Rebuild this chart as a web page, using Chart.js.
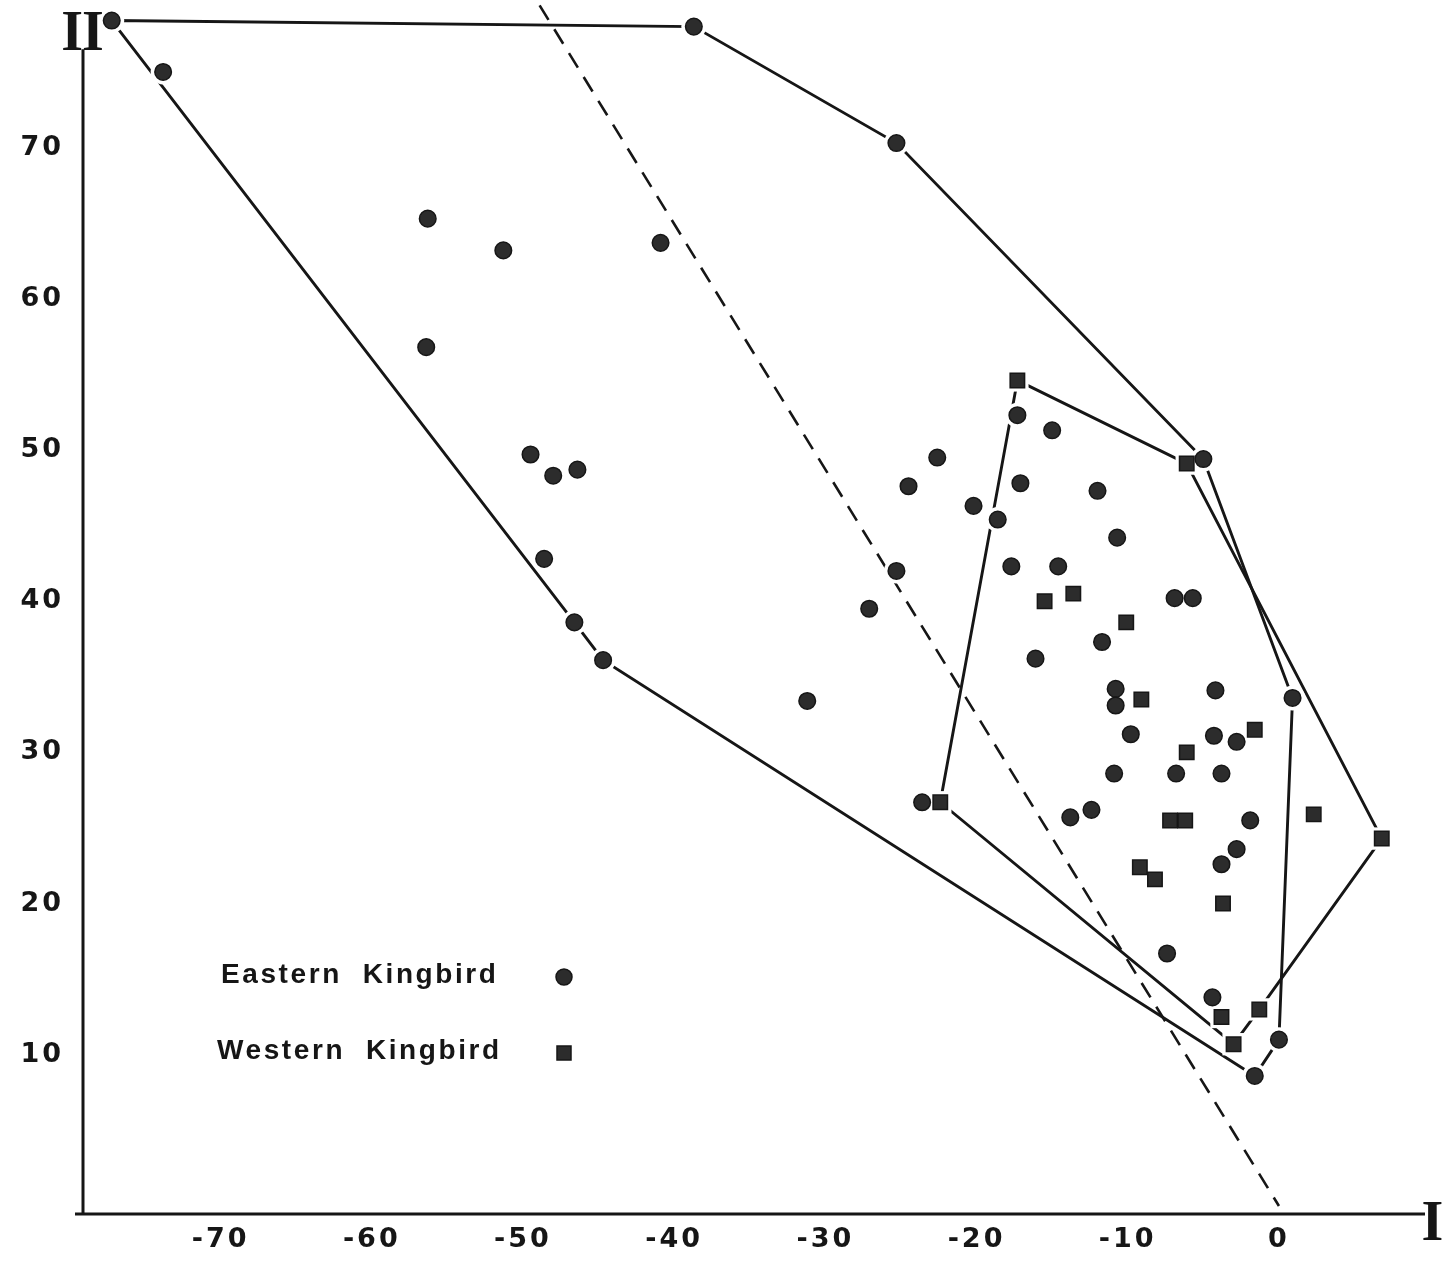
<!DOCTYPE html>
<html>
<head>
<meta charset="utf-8">
<title>Eastern and Western Kingbird – hybrid index scores</title>
<script src="https://cdn.jsdelivr.net/npm/chart.js@4/dist/chart.umd.min.js"></script>
<style>
  html, body { margin: 0; padding: 0; background: #ffffff; }
  #wrap { width: 1446px; height: 1263px; position: relative; }
</style>
</head>
<body>
<div id="wrap"><canvas id="chart"></canvas></div>
<script>
// Axis I (horizontal) and axis II (vertical) scores for each specimen.
const easternX = [-77.2, -73.8, -38.7, -25.3, -56.3, -51.3, -40.9, -56.4, -49.5, -48.0,
                  -46.4, -48.6, -46.6, -44.7, -31.2, -27.1, -25.3, -24.5, -22.6, -20.2,
                  -18.6, -17.3, -15.0, -17.1, -17.7, -14.6, -12.0, -10.7, -16.1, -11.7,
                  -6.9, -5.7, -10.8, -10.8, -9.8, -10.9, -4.2, -4.3, -2.8, -6.8,
                  -3.8, -13.8, -12.4, -1.9, -2.8, -3.8, -7.4, -4.4, -23.6, -5.0,
                  0.9, 0.0, -1.6];
const easternY = [78.4, 75.0, 78.0, 70.3, 65.3, 63.2, 63.7, 56.8, 49.7, 48.3,
                  48.7, 42.8, 38.6, 36.1, 33.4, 39.5, 42.0, 47.6, 49.5, 46.3,
                  45.4, 52.3, 51.3, 47.8, 42.3, 42.3, 47.3, 44.2, 36.2, 37.3,
                  40.2, 40.2, 34.2, 33.1, 31.2, 28.6, 34.1, 31.1, 30.7, 28.6,
                  28.6, 25.7, 26.2, 25.5, 23.6, 22.6, 16.7, 13.8, 26.7, 49.4,
                  33.6, 11.0, 8.6];
const westernX = [-17.3, -6.1, 6.8, -1.3, -3.0, -22.4, -15.5, -13.6, -10.1, -9.1,
                  -1.6, -6.1, -7.2, -6.2, 2.3, -9.2, -8.2, -3.7, -3.8];
const westernY = [54.6, 49.1, 24.3, 13.0, 10.7, 26.7, 40.0, 40.5, 38.6, 33.5,
                  31.5, 30.0, 25.5, 25.5, 25.9, 22.4, 21.6, 20.0, 12.5];

// Outline polygons (indices into the arrays above, closed).
const easternHull = [0, 2, 3, 49, 50, 51, 52, 13, 12, 0];
const westernHull = [0, 1, 2, 3, 4, 5, 0];

// Dashed separating line between the two forms.
const dividerX = [-48.9, 0.0];
const dividerY = [79.4, 0.0];

const xTicks = [-70, -60, -50, -40, -30, -20, -10, 0];
const yTicks = [10, 20, 30, 40, 50, 60, 70];
const xAxisName = 'I';
const yAxisName = 'II';
const legendNames = ['Eastern  Kingbird', 'Western  Kingbird'];

const pts = (xs, ys) => xs.map((x, i) => ({ x: x, y: ys[i] }));
const ring = (xs, ys, idx) => idx.map(i => ({ x: xs[i], y: ys[i] }));

const INK = '#161616';
const MARK = '#2c2c2c';

const decor = {
  id: 'decor',
  beforeDraw(chart) {
    chart.ctx.letterSpacing = '3px';
  },
  beforeDatasetsDraw(chart) {
    const { ctx } = chart;
    const xs = chart.scales.x, ys = chart.scales.y;
    ctx.save();
    ctx.strokeStyle = INK;
    ctx.lineWidth = 3;
    ctx.lineCap = 'butt';
    // vertical axis
    ctx.beginPath();
    ctx.moveTo(xs.left, ys.getPixelForValue(76.5));
    ctx.lineTo(xs.left, ys.bottom + 1);
    ctx.stroke();
    // horizontal axis
    ctx.beginPath();
    ctx.moveTo(xs.left - 8, ys.bottom);
    ctx.lineTo(xs.right, ys.bottom);
    ctx.stroke();
    ctx.restore();
  },
  afterDraw(chart) {
    const { ctx } = chart;
    const xs = chart.scales.x, ys = chart.scales.y;
    ctx.save();
    ctx.letterSpacing = '-1px';
    ctx.fillStyle = INK;
    ctx.textAlign = 'center';
    ctx.textBaseline = 'alphabetic';
    ctx.font = 'bold 56px "Liberation Serif"';
    ctx.fillText(yAxisName, xs.left - 1, ys.getPixelForValue(76.5) + 1);
    ctx.fillText(xAxisName, xs.right + 7, ys.bottom + 26);

    // legend
    ctx.letterSpacing = '2.6px';
    ctx.textAlign = 'left';
    ctx.textBaseline = 'middle';
    ctx.font = 'bold 28px "Liberation Sans"';
    ctx.fillText(legendNames[0], 221, 975);
    ctx.fillText(legendNames[1], 217, 1051);

    ctx.fillStyle = MARK;
    ctx.strokeStyle = INK;
    ctx.lineWidth = 1.5;
    ctx.beginPath();
    ctx.arc(564, 977, 8, 0, Math.PI * 2);
    ctx.fill();
    ctx.stroke();
    ctx.beginPath();
    ctx.rect(557, 1046, 14, 14);
    ctx.fill();
    ctx.stroke();
    ctx.restore();
  }
};

const lineStyle = {
  type: 'scatter',
  showLine: true,
  fill: false,
  tension: 0,
  pointRadius: 0,
  borderColor: INK,
  borderWidth: 2.9,
  order: 3
};

// keep the plotting area flush with the canvas edges
const noPad = s => { s.paddingTop = 0; s.paddingBottom = 0; s.paddingLeft = 0; s.paddingRight = 0; };

new Chart(document.getElementById('chart'), {
  type: 'scatter',
  data: {
    datasets: [
      { label: 'Eastern Kingbird', data: pts(easternX, easternY), pointStyle: 'circle',
        pointRadius: 8.3, backgroundColor: MARK, borderColor: INK, borderWidth: 1.5, order: 0 },
      { label: 'Western Kingbird', data: pts(westernX, westernY), pointStyle: 'rect',
        pointRadius: 10.2, backgroundColor: MARK, borderColor: INK, borderWidth: 1.5, order: 0 },
      { label: 'eastern gap', data: pts(easternX, easternY), pointStyle: 'circle',
        pointRadius: 12.5, backgroundColor: '#ffffff', borderWidth: 0, order: 1 },
      { label: 'western gap', data: pts(westernX, westernY), pointStyle: 'rect',
        pointRadius: 15.8, backgroundColor: '#ffffff', borderWidth: 0, order: 1 },
      Object.assign({ label: 'Eastern outline', data: ring(easternX, easternY, easternHull) }, lineStyle),
      Object.assign({ label: 'Western outline', data: ring(westernX, westernY, westernHull) }, lineStyle),
      Object.assign({}, lineStyle, { label: 'Divider', data: pts(dividerX, dividerY),
        borderWidth: 2.6, borderDash: [17, 11] })
    ]
  },
  options: {
    responsive: true,
    maintainAspectRatio: false,
    animation: false,
    layout: { autoPadding: false, padding: { left: 0, top: 0, right: 21, bottom: 0 } },
    plugins: { legend: { display: false }, tooltip: { enabled: false } },
    scales: {
      x: {
        type: 'linear',
        min: -79.1, max: 9.66,
        grid: { display: false, drawTicks: false },
        border: { display: false },
        afterBuildTicks: s => { s.ticks = xTicks.map(v => ({ value: v })); },
        afterFit: s => { s.height = 49; noPad(s); },
        ticks: { autoSkip: false, maxRotation: 0, padding: 10, color: INK,
                 font: { family: '"DejaVu Sans"', size: 27, weight: 'bold' } }
      },
      y: {
        type: 'linear',
        min: -0.53, max: 79.76,
        grid: { display: false, drawTicks: false },
        border: { display: false },
        afterBuildTicks: s => { s.ticks = yTicks.map(v => ({ value: v })); },
        afterFit: s => { s.width = 83; noPad(s); },
        ticks: { autoSkip: false, padding: 19, color: INK,
                 font: { family: '"DejaVu Sans"', size: 27, weight: 'bold' } }
      }
    }
  },
  plugins: [decor]
});
</script>
</body>
</html>
